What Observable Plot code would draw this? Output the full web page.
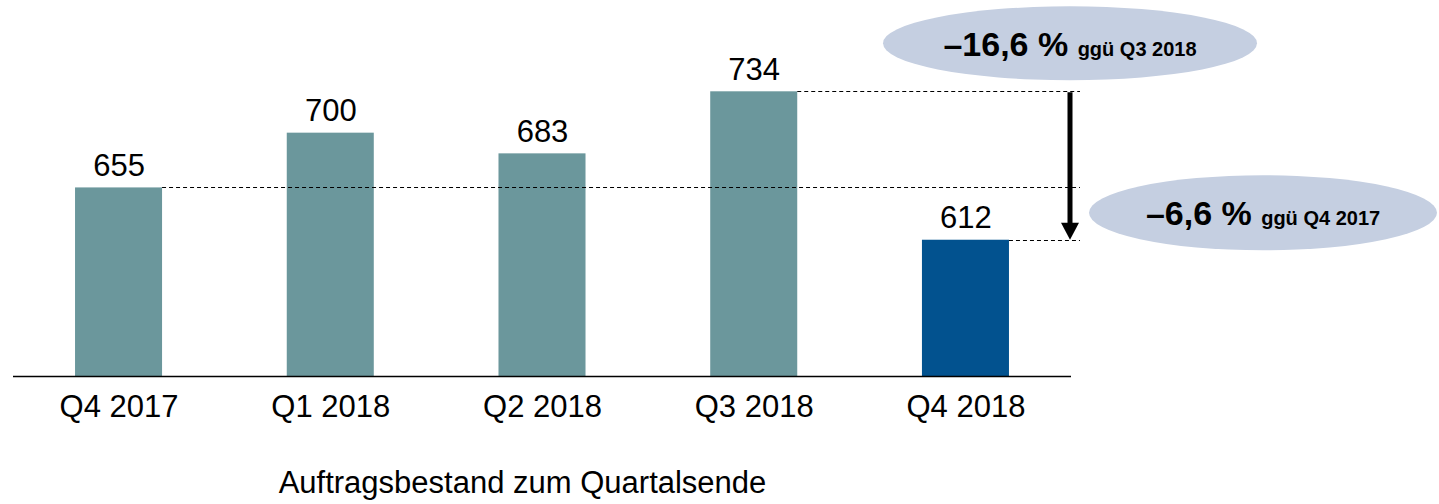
<!DOCTYPE html>
<html>
<head>
<meta charset="utf-8">
<script src="https://cdn.jsdelivr.net/npm/d3@7"></script>
<script src="https://cdn.jsdelivr.net/npm/@observablehq/plot@0.6"></script>
<style>
  html, body { margin: 0; padding: 0; background: #fff; }
  svg { display: block; }
</style>
</head>
<body>
<div id="chart"></div>
<script>
// ---- data ----
const quarters = ["Q4 2017", "Q1 2018", "Q2 2018", "Q3 2018", "Q4 2018"];
const values = [655, 700, 683, 734, 612];
const highlightQuarter = "Q4 2018";
const baseValue = 500;
const yMax = 800;
const title = "Auftragsbestand zum Quartalsende";
// comparison annotations
const annotations = [
  { from: "Q3 2018", main: "\u201316,6 %", sub: "ggü Q3 2018" },
  { from: "Q4 2017", main: "\u20136,6 %", sub: "ggü Q4 2017" }
];

const teal = "#6B979C";
const blue = "#02528F";
const ellipseFill = "#C5CFE1";
const font = "'Liberation Sans', Arial, Helvetica, sans-serif";

const data = quarters.map((q, i) => ({ q, v: values[i] }));

const plot = Plot.plot({
  width: 1439,
  height: 504,
  marginLeft: 13,
  marginRight: 368,
  marginTop: 11,
  marginBottom: 128,
  style: { fontFamily: font, background: "#fff", overflow: "visible" },
  x: { domain: quarters, paddingInner: 0.589, paddingOuter: 0.293, round: false, axis: null },
  y: { domain: [baseValue, yMax], axis: null },
  color: { type: "identity" },
  marks: [
    Plot.barY(data, {
      x: "q", y1: baseValue, y2: "v",
      fill: d => d.q === highlightQuarter ? blue : teal
    }),
    Plot.ruleY([baseValue], { stroke: "#000", strokeWidth: 1.5 }),
    Plot.text(data, {
      x: "q", y: "v", text: d => String(d.v),
      lineAnchor: "middle", dy: -22, fontSize: 31, fill: "#000"
    }),
    Plot.text(quarters, {
      x: d => d, y: () => baseValue, text: d => d,
      lineAnchor: "middle", dy: 31, fontSize: 31, fill: "#000"
    }),
    Plot.text([title], {
      frameAnchor: "bottom", text: d => d,
      lineAnchor: "middle", dx: -20, dy: 107, fontSize: 31, fill: "#000"
    })
  ]
});

document.getElementById("chart").appendChild(plot);

// ---- annotations drawn from the plot's scales ----
const xs = plot.scale("x");
const ys = plot.scale("y");
const xEnd = xs.range[1];
const bw = xs.bandwidth;
const yOf = v => ys.apply(v);
const valOf = q => values[quarters.indexOf(q)];

const svg = d3.select(plot);
const g = svg.append("g");

// dashed reference lines
const dashed = [annotations[1].from, annotations[0].from, highlightQuarter];
dashed.forEach(q => {
  const x1 = xs.apply(q) + bw;
  const y = Math.round(yOf(valOf(q))) + 0.5;
  g.append("line")
    .attr("x1", x1).attr("x2", xEnd + 9)
    .attr("y1", y).attr("y2", y)
    .attr("stroke", "#000").attr("stroke-width", 1)
    .attr("stroke-dasharray", "4,3");
});

// arrow
const ax = xEnd - 1;
const yTop = yOf(valOf(annotations[0].from));
const yBot = yOf(valOf(highlightQuarter));
g.append("line")
  .attr("x1", ax).attr("x2", ax)
  .attr("y1", yTop + 1).attr("y2", yBot - 16)
  .attr("stroke", "#000").attr("stroke-width", 5);
g.append("path")
  .attr("d", `M${ax - 9},${yBot - 17} L${ax + 9},${yBot - 17} L${ax},${yBot} Z`)
  .attr("fill", "#000");

// ellipses with texts
const ell = [
  { cx: ax, cy: yTop - 48, rx: 187, ry: 37, a: annotations[0] },
  { cx: ax + 193, cy: yBot - 27, rx: 174, ry: 37.5, a: annotations[1] }
];
ell.forEach(e => {
  g.append("ellipse")
    .attr("cx", e.cx).attr("cy", e.cy)
    .attr("rx", e.rx).attr("ry", e.ry)
    .attr("fill", ellipseFill);
  const t = g.append("text")
    .attr("x", e.cx).attr("y", e.cy + 12.5)
    .attr("text-anchor", "middle")
    .attr("font-family", font)
    .attr("font-weight", "bold")
    .attr("fill", "#000");
  t.append("tspan").attr("font-size", 34).text(e.a.main + " ");
  t.append("tspan").attr("font-size", 20).text(e.a.sub);
});
</script>
</body>
</html>
